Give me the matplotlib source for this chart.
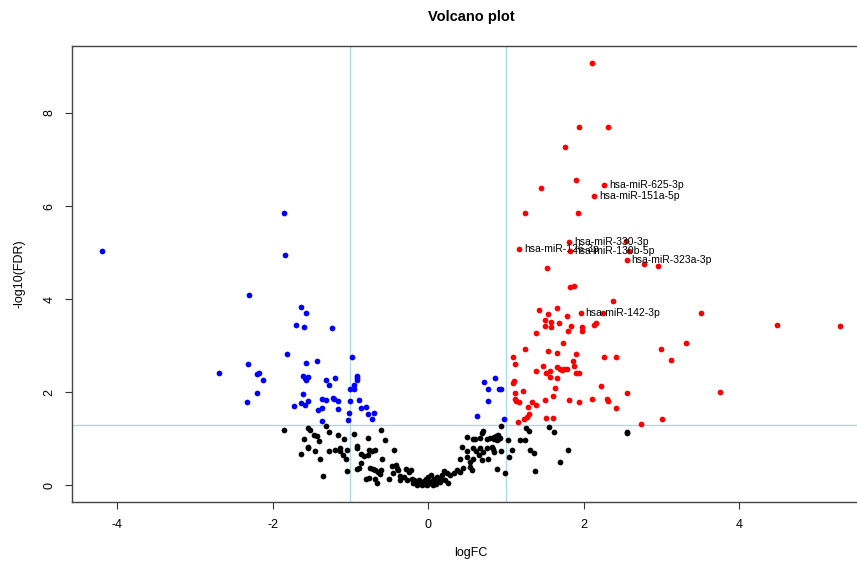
import numpy as np
import matplotlib
matplotlib.use('Agg')
import matplotlib.pyplot as plt

plt.rcParams['font.family'] = ['Liberation Sans', 'DejaVu Sans']
plt.rcParams['axes.unicode_minus'] = False

# logFC and -log10(FDR), grouped by region
logfc_sig_left = [-4.20, -1.86, -1.84, -2.31, -1.64, -1.57, -1.70, -1.60, -1.24, -1.82,
                  -2.32, -1.57, -1.43, -0.98, -2.69, -2.20, -2.17, -2.13, -1.61, -1.57,
                  -1.54, -1.59, -1.31, -1.27, -1.20, -0.92, -0.92, -0.92, -0.96, -1.01,
                  -0.96, -2.20, -1.61, -2.33, -1.72, -1.63, -1.58, -1.54, -1.36, -1.32,
                  -1.22, -1.21, -1.16, -1.42, -1.36, -1.16, -1.01, -0.89, -1.02, -0.86,
                  -0.80, -0.77, -0.70, -0.72, -1.36, -1.03,
                  0.72, 0.86, 0.77, 0.91, 0.94, 0.77, 0.63, 0.97]
nlfdr_sig_left = [5.03, 5.85, 4.94, 4.09, 3.82, 3.70, 3.44, 3.40, 3.37, 2.82,
                  2.61, 2.62, 2.67, 2.75, 2.40, 2.39, 2.41, 2.27, 2.35, 2.27,
                  2.32, 2.31, 2.25, 2.16, 2.31, 2.35, 2.31, 2.27, 2.16, 2.07,
                  2.07, 1.97, 1.95, 1.78, 1.71, 1.76, 1.73, 1.81, 1.85, 1.83,
                  1.87, 1.85, 1.81, 1.61, 1.65, 1.63, 1.80, 1.83, 1.54, 1.66,
                  1.68, 1.53, 1.56, 1.42, 1.38, 1.39,
                  2.21, 2.31, 2.07, 2.07, 2.07, 1.81, 1.48, 1.42]

logfc_up = [2.10, 1.94, 2.31, 1.76, 1.90, 1.45, 2.26, 2.13, 1.25, 1.93,
            1.81, 1.17, 1.82, 2.54, 2.58, 2.55, 2.78, 2.95, 1.53, 1.82,
            1.88, 2.37, 1.96, 2.25, 1.65, 1.42, 1.54, 1.78, 1.50, 1.58,
            1.50, 1.58, 1.68, 1.84, 1.98, 1.98, 2.13, 2.16, 1.39, 1.80,
            1.73, 1.25, 1.54, 2.99, 3.31, 1.65, 1.90, 1.86, 1.09, 1.12,
            2.26, 2.42, 3.12, 1.48, 1.39, 1.51, 1.56, 1.57, 1.66, 1.66,
            1.70, 1.72, 1.75, 1.78, 1.88, 1.90, 1.94, 1.10, 1.09, 1.12,
            1.22, 1.63, 1.61, 1.50, 1.33, 1.38, 1.28, 1.11, 1.13, 1.17,
            1.81, 1.94, 2.11, 2.22, 2.30, 2.31, 2.41, 2.55, 1.30, 1.27,
            1.23, 1.15, 1.51, 1.60, 3.00, 2.73, 3.51, 4.48, 5.30, 3.75]
nlfdr_up = [9.08, 7.70, 7.70, 7.27, 6.57, 6.38, 6.46, 6.22, 5.85, 5.85,
            5.23, 5.08, 5.03, 5.24, 5.04, 4.85, 4.75, 4.72, 4.66, 4.26,
            4.29, 3.96, 3.70, 3.70, 3.81, 3.76, 3.67, 3.63, 3.55, 3.51,
            3.43, 3.40, 3.48, 3.43, 3.39, 3.32, 3.44, 3.48, 3.28, 3.32,
            3.06, 2.93, 2.89, 2.93, 3.06, 2.85, 2.81, 2.67, 2.75, 2.60,
            2.75, 2.75, 2.70, 2.57, 2.46, 2.41, 2.46, 2.32, 2.30, 2.54,
            2.50, 2.47, 2.49, 2.50, 2.55, 2.42, 2.40, 2.24, 2.19, 1.97,
            2.03, 2.09, 1.92, 1.83, 1.78, 1.73, 1.68, 1.85, 1.81, 1.79,
            1.84, 1.79, 1.86, 2.12, 1.86, 1.81, 1.66, 1.97, 1.52, 1.46,
            1.42, 1.36, 1.45, 1.45, 1.42, 1.32, 3.71, 3.45, 3.43, 2.00]

logfc_ns = [-1.86, -1.54, -1.52, -1.31, -1.28, -1.47, -1.43, -1.41, -1.60, -1.16,
            -1.08, -0.96, -0.78, -0.61, -0.56, -1.55, -1.54, -1.45, -1.63, -1.39,
            -1.27, -1.20, -1.14, -1.13, -1.04, -1.09, -1.06, -0.92, -0.91, -0.86,
            -0.82, -0.78, -0.76, -0.72, -0.68, -0.87, -0.89, -0.59, -0.44, -1.05,
            -1.35, -0.92, -0.75, -0.71, -0.68, -0.65, -0.62, -0.68, -0.61, -0.80,
            -0.76, -0.66, -0.51, -0.46, -0.42, -0.40, -0.39, -0.45, -0.36, -0.31,
            -0.36, -0.29, -0.25, -0.22, -0.27, -0.21, -0.18, -0.14, -0.10, -0.06,
            -0.03, 0.00, -0.08, -0.15,
            0.94, 0.71, 0.69, 0.66, 0.60, 0.58, 0.50, 0.75, 0.80, 0.84,
            0.87, 0.90, 0.92, 0.88, 0.85, 0.90, 1.03, 1.18, 1.25, 1.26,
            1.29, 1.55, 1.62, 0.44, 0.50, 0.58, 0.62, 0.66, 0.71, 0.75,
            0.82, 0.83, 0.84, 0.93, 1.08, 1.04, 1.31, 1.36, 1.80, 1.69,
            0.41, 0.50, 0.54, 0.58, 0.65, 0.69, 0.77, 0.54, 0.56, 0.45,
            0.41, 0.37, 0.33, 0.28, 0.24, 0.20, 0.18, 0.11, 0.07, 0.03,
            -0.02, 0.89, 0.99, 1.37, 0.22, 0.26, 0.15, 0.02, 0.06, -0.02,
            2.55, 2.56, 0.10, -0.12, 0.13, 0.16, -0.20, 0.05, 0.08, -0.04]
nlfdr_ns = [1.19, 1.23, 1.18, 1.28, 1.15, 1.08, 1.05, 0.95, 0.99, 1.07,
            1.00, 1.09, 1.02, 1.18, 0.96, 0.81, 0.80, 0.73, 0.67, 0.57,
            0.73, 0.76, 0.79, 0.73, 0.76, 0.65, 0.57, 0.85, 0.79, 0.66,
            0.63, 0.65, 0.76, 0.73, 0.76, 0.47, 0.37, 0.57, 0.76, 0.31,
            0.19, 0.34, 0.37, 0.34, 0.32, 0.29, 0.23, 0.14, 0.32, 0.14,
            0.16, 0.05, 0.14, 0.42, 0.44, 0.36, 0.33, 0.26, 0.20, 0.17,
            0.12, 0.34, 0.29, 0.32, 0.11, 0.14, 0.11, 0.07, 0.04, 0.09,
            0.13, 0.18, 0.00, 0.00,
            1.28, 1.16, 1.11, 1.02, 1.00, 0.99, 1.04, 1.00, 1.02, 1.04,
            1.06, 1.08, 1.02, 0.97, 0.99, 0.99, 0.97, 0.98, 0.97, 1.22,
            1.16, 1.25, 1.15, 0.81, 0.73, 0.79, 0.73, 0.79, 0.72, 0.79,
            0.82, 0.77, 0.72, 0.74, 0.75, 0.60, 0.75, 0.70, 0.75, 0.50,
            0.57, 0.61, 0.50, 0.57, 0.65, 0.54, 0.57, 0.39, 0.32, 0.36,
            0.29, 0.32, 0.25, 0.21, 0.25, 0.30, 0.21, 0.18, 0.14, 0.21,
            0.11, 0.34, 0.25, 0.31, 0.11, 0.04, 0.06, 0.04, 0.00, 0.00,
            1.11, 1.15, 0.02, 0.10, 0.12, 0.15, 0.05, 0.08, 0.10, 0.02]

label_names = ['hsa-miR-625-3p', 'hsa-miR-151a-5p', 'hsa-miR-330-3p', 'hsa-miR-126-3p',
               'hsa-miR-130b-5p', 'hsa-miR-323a-3p', 'hsa-miR-142-3p']
label_logfc = [2.26, 2.13, 1.81, 1.17, 1.82, 2.55, 1.96]
label_nlfdr = [6.46, 6.22, 5.23, 5.08, 5.03, 4.85, 3.70]

fig = plt.figure(figsize=(8.57, 5.62), dpi=100)
W, H = 857.0, 562.0
# plot region runs past the right edge of the picture (cropped like the original)
ax = fig.add_axes([72 / W, 1 - 502 / H, (870 - 72) / W, (502 - 46) / H])

ax.scatter(logfc_ns, nlfdr_ns, s=17, c='black', linewidths=0, zorder=3)
ax.scatter(logfc_sig_left, nlfdr_sig_left, s=17, c='blue', linewidths=0, zorder=3)
ax.scatter(logfc_up, nlfdr_up, s=17, c='red', linewidths=0, zorder=3)

ax.axvline(-1, color='lightblue', lw=1, zorder=1)
ax.axvline(1, color='lightblue', lw=1, zorder=1)
ax.axhline(-np.log10(0.05), color='lightblue', lw=1, zorder=1)

for name, x, y in zip(label_names, label_logfc, label_nlfdr):
    ax.annotate(name, (x, y), xytext=(3.5, 0), textcoords='offset points',
                fontsize=7.5, ha='left', va='center', zorder=4)

ax.set_xlim(-4.58, 5.68)
ax.set_ylim(-0.363, 9.44)
ax.set_xticks([-4, -2, 0, 2, 4])
ax.set_yticks([0, 2, 4, 6, 8])
ax.tick_params(length=5, width=0.8, labelsize=9, pad=7, color='#333333')
for lab in ax.get_yticklabels():
    lab.set_rotation(90)
    lab.set_va('center')
for sp in ax.spines.values():
    sp.set_color('#444444')
    sp.set_linewidth(1)

ax.set_title('Volcano plot', fontsize=10.5, fontweight='bold', pad=18)
ax.set_xlabel('logFC', fontsize=9, labelpad=12)
ax.set_ylabel('-log10(FDR)', fontsize=9, labelpad=12.5)

fig.savefig('out.png', dpi=100)
